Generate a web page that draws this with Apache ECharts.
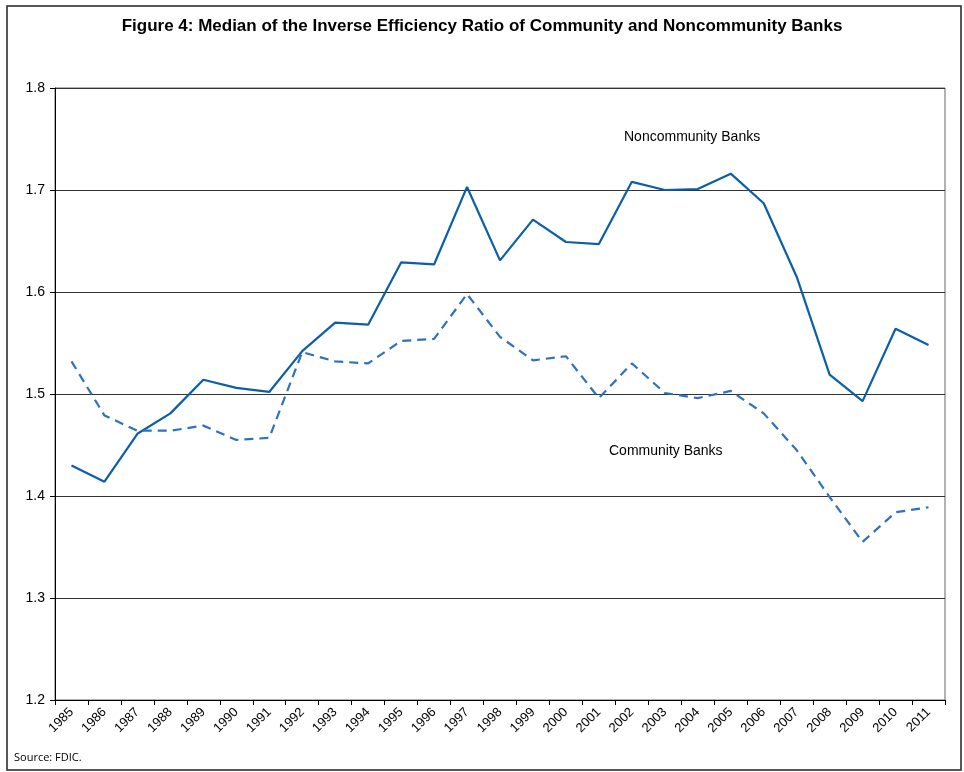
<!DOCTYPE html>
<html>
<head>
<meta charset="utf-8">
<script src="https://cdn.jsdelivr.net/npm/echarts@6/dist/echarts.min.js"></script>
<style>
  html, body { margin: 0; padding: 0; background: #fff; }
  #chart { width: 964px; height: 772px; }
</style>
</head>
<body>
<div id="chart"></div>
<script>
'use strict';

var years = ['1985', '1986', '1987', '1988', '1989', '1990', '1991', '1992', '1993',
    '1994', '1995', '1996', '1997', '1998', '1999', '2000', '2001', '2002', '2003',
    '2004', '2005', '2006', '2007', '2008', '2009', '2010', '2011'];

var noncommunity = [1.430, 1.414, 1.461, 1.481, 1.514, 1.506, 1.502, 1.542, 1.570,
    1.568, 1.629, 1.627, 1.703, 1.631, 1.671, 1.649, 1.647, 1.708, 1.700,
    1.701, 1.716, 1.687, 1.615, 1.519, 1.493, 1.564, 1.548];

var community = [1.532, 1.479, 1.464, 1.464, 1.469, 1.455, 1.457, 1.541, 1.532,
    1.530, 1.552, 1.554, 1.598, 1.556, 1.533, 1.537, 1.496, 1.530, 1.501,
    1.496, 1.503, 1.481, 1.445, 1.399, 1.355, 1.384, 1.389];

var narrow = '"Liberation Sans Narrow", "Arial Narrow", "Liberation Sans", sans-serif';

var myChart = echarts.init(document.getElementById('chart'));

var option = {
    backgroundColor: '#fff',
    animation: false,
    title: {
        text: 'Figure 4: Median of the Inverse Efficiency Ratio of Community and Noncommunity Banks',
        left: 'center',
        top: 13,
        textStyle: {
            fontFamily: narrow,
            fontSize: 17,
            fontWeight: 'bold',
            color: '#000'
        }
    },
    grid: {
        left: 55,
        right: 19,
        top: 88,
        bottom: 72,
        show: true,
        borderColor: '#666',
        borderWidth: 1
    },
    xAxis: {
        type: 'category',
        data: years,
        boundaryGap: true,
        axisLine: { lineStyle: { color: '#000', width: 1 } },
        axisTick: { show: true, length: 5, lineStyle: { color: '#000' } },
        axisLabel: {
            rotate: 45,
            interval: 0,
            margin: 10,
            fontFamily: narrow,
            fontSize: 13,
            color: '#000'
        }
    },
    yAxis: {
        type: 'value',
        min: 1.2,
        max: 1.8,
        interval: 0.1,
        axisLine: { show: true, lineStyle: { color: '#000', width: 1 } },
        axisTick: { show: true, length: 5, lineStyle: { color: '#000' } },
        axisLabel: {
            margin: 10,
            fontFamily: narrow,
            fontSize: 14,
            color: '#000',
            formatter: function(v) { return v.toFixed(1); }
        },
        splitLine: { show: true, lineStyle: { color: '#333', width: 1 } }
    },
    series: [{
        name: 'Noncommunity Banks',
        type: 'line',
        data: noncommunity,
        symbol: 'none',
        lineStyle: { color: '#0b5fa8', width: 2.2, type: 'solid' }
    }, {
        name: 'Community Banks',
        type: 'line',
        data: community,
        symbol: 'none',
        lineStyle: { color: '#2f72bc', width: 2.2, type: [9, 6] }
    }],
    graphic: [{
        type: 'rect',
        shape: { x: 7, y: 6, width: 954, height: 764 },
        style: { fill: 'none', stroke: '#222', lineWidth: 1.5 },
        silent: true
    }, {
        type: 'text',
        left: 624,
        top: 130,
        style: { text: 'Noncommunity Banks', font: '14px ' + narrow, fill: '#000' }
    }, {
        type: 'text',
        left: 609,
        top: 444,
        style: { text: 'Community Banks', font: '14px ' + narrow, fill: '#000' }
    }, {
        type: 'text',
        left: 14,
        top: 752,
        style: { text: 'Source: FDIC.', font: '11px "Open Sans", sans-serif', fill: '#000' }
    }]
};

myChart.setOption(option);
</script>
</body>
</html>
